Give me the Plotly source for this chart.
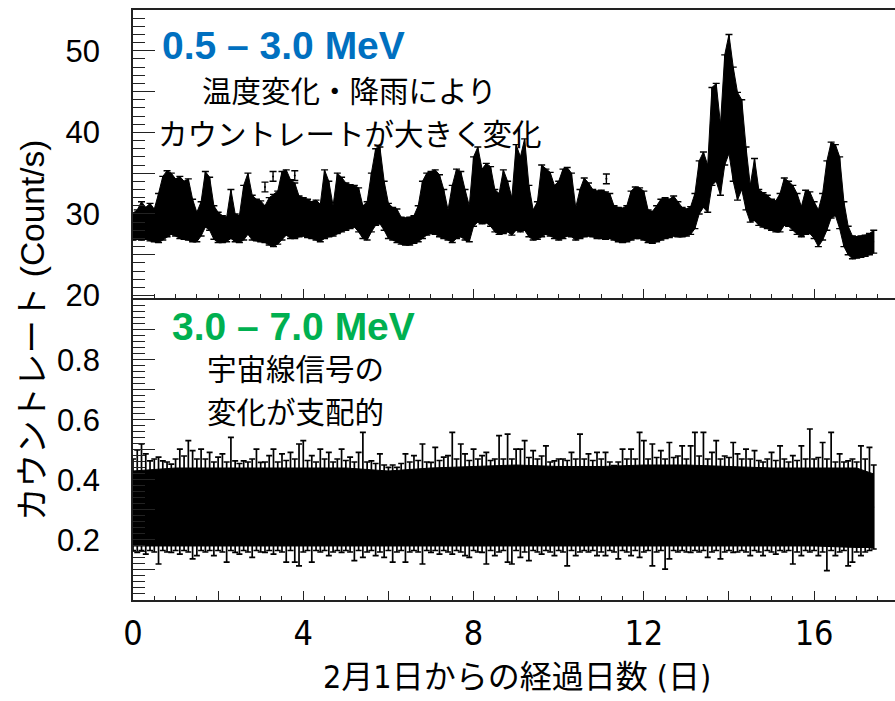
import numpy as np
import plotly.graph_objects as go

# ---------------- data ----------------
# time bins (days since Feb 1), 0.1-day grid
t_days = np.round(np.arange(175) * 0.1, 1)

# 0.5-3.0 MeV band: upper / lower envelope of the plotted points (count/s)
top_hi = [30.1,30.5,31.5,30.8,31.3,30.6,32.5,34.6,35.3,35.0,
          34.3,34.6,34.0,34.3,31.8,30.2,31.5,35.2,34.5,31.0,
          30.2,29.8,29.6,33.0,30.0,29.8,33.5,35.0,32.3,31.8,
          31.6,31.0,32.0,32.4,32.8,35.2,35.4,34.2,33.8,32.2,
          32.0,31.8,31.5,31.7,31.2,35.4,34.0,31.0,35.0,34.5,
          33.8,33.6,33.5,33.2,31.0,31.5,35.0,38.0,38.2,34.0,
          31.3,30.8,30.6,29.6,29.5,29.6,29.8,31.0,34.0,35.0,
          35.2,35.4,34.8,33.0,30.5,33.5,35.5,35.2,33.0,31.0,
          37.0,38.2,35.5,36.2,35.8,33.0,32.5,35.4,34.0,32.0,
          38.5,37.0,39.2,33.5,30.5,31.5,36.0,35.5,35.1,33.5,
          34.0,35.5,35.7,35.0,30.8,33.0,34.4,33.8,33.0,32.8,
          32.9,32.7,32.5,31.0,30.8,30.7,31.0,32.8,33.3,33.2,
          32.8,30.5,30.3,31.0,31.8,32.0,31.8,32.2,31.5,30.8,
          30.6,30.9,32.5,36.5,37.6,36.0,45.5,46.0,41.0,49.5,
          52.0,48.0,44.9,44.0,38.2,33.5,36.8,33.0,32.6,32.3,
          31.8,31.6,32.5,34.4,34.0,33.5,32.5,30.9,32.9,32.7,
          31.5,30.5,32.5,36.5,38.8,38.5,37.0,31.5,28.5,27.3,
          27.2,27.3,27.4,27.6,28.0]
top_lo = [26.8,26.9,26.8,26.9,26.7,26.6,26.5,26.8,27.2,27.5,
          27.3,27.0,26.9,26.8,26.6,26.6,27.3,28.4,28.0,26.9,
          26.5,26.5,26.6,27.0,26.6,26.5,26.8,27.5,26.8,26.7,
          26.6,26.5,26.2,26.0,26.3,26.8,27.4,27.0,27.0,27.2,
          27.3,27.1,27.0,26.8,26.6,27.0,27.2,27.3,27.6,27.8,
          28.0,28.2,28.4,27.8,27.0,26.8,27.8,28.6,28.8,28.0,
          27.0,26.8,26.5,26.3,26.2,26.2,26.4,26.6,27.0,27.4,
          27.6,27.5,27.2,27.0,26.8,26.5,27.0,27.2,26.8,26.6,
          28.5,29.0,28.8,28.9,28.5,27.8,27.5,27.6,27.8,27.4,
          28.0,27.8,28.0,27.2,26.8,26.9,27.2,27.5,27.3,27.0,
          26.8,27.0,27.3,27.2,26.8,27.0,27.2,27.3,27.2,27.0,
          27.0,26.9,27.0,26.8,26.6,26.5,26.6,26.8,27.0,27.0,
          26.8,26.5,26.4,26.6,26.8,27.0,27.1,27.3,27.2,27.2,
          27.3,27.5,28.2,30.0,30.8,30.2,33.5,34.0,32.3,36.0,
          37.4,34.0,31.7,33.0,30.5,29.0,29.2,28.6,28.4,28.2,
          28.0,27.8,27.8,28.6,28.5,28.0,27.5,27.2,27.5,27.6,
          27.0,26.0,26.8,28.0,29.5,29.8,28.2,26.0,25.0,24.5,
          24.6,24.7,24.8,25.0,25.2]

# isolated points of the 0.5-3.0 MeV band
iso_t = [3.1, 3.29, 3.8, 11.12]
iso_rate = [33.3, 34.6, 34.7, 34.3]
iso_err = [0.6, 0.6, 0.6, 0.6]

# 3.0-7.0 MeV band: tips of the error bars (count/s)
low_hi = [0.47,0.50,0.52,0.487,0.464,0.47,0.476,0.464,0.46,0.453,
          0.47,0.503,0.48,0.531,0.498,0.47,0.503,0.47,0.492,0.46,
          0.476,0.487,0.46,0.542,0.464,0.455,0.464,0.46,0.47,0.503,
          0.459,0.46,0.481,0.503,0.46,0.487,0.465,0.492,0.47,0.52,
          0.531,0.465,0.481,0.46,0.503,0.47,0.492,0.46,0.47,0.503,
          0.465,0.476,0.46,0.492,0.559,0.46,0.464,0.455,0.487,0.45,
          0.442,0.45,0.442,0.455,0.487,0.46,0.481,0.465,0.52,0.46,
          0.459,0.509,0.465,0.476,0.481,0.559,0.47,0.52,0.487,0.465,
          0.503,0.47,0.481,0.492,0.465,0.47,0.548,0.47,0.553,0.47,
          0.503,0.503,0.531,0.475,0.498,0.47,0.48,0.514,0.46,0.464,
          0.47,0.47,0.465,0.492,0.47,0.553,0.47,0.487,0.465,0.492,
          0.47,0.492,0.46,0.448,0.46,0.503,0.47,0.503,0.47,0.559,
          0.531,0.47,0.52,0.475,0.498,0.47,0.525,0.475,0.48,0.514,
          0.47,0.514,0.559,0.48,0.559,0.47,0.492,0.531,0.47,0.48,
          0.475,0.525,0.487,0.47,0.503,0.47,0.498,0.465,0.46,0.47,
          0.492,0.465,0.514,0.47,0.46,0.481,0.465,0.514,0.47,0.57,
          0.47,0.475,0.525,0.47,0.559,0.46,0.487,0.46,0.464,0.47,
          0.46,0.514,0.47,0.509,0.45]
low_lo = [0.165,0.159,0.165,0.153,0.165,0.16,0.12,0.165,0.16,0.159,
          0.165,0.153,0.165,0.16,0.137,0.148,0.165,0.16,0.165,0.148,
          0.165,0.16,0.126,0.165,0.159,0.153,0.165,0.16,0.142,0.165,
          0.16,0.159,0.165,0.153,0.165,0.16,0.126,0.165,0.126,0.114,
          0.16,0.165,0.126,0.165,0.16,0.165,0.148,0.16,0.165,0.159,
          0.165,0.16,0.131,0.165,0.142,0.16,0.165,0.148,0.16,0.142,
          0.165,0.126,0.16,0.165,0.126,0.16,0.165,0.16,0.12,0.165,
          0.159,0.165,0.153,0.165,0.16,0.153,0.165,0.16,0.148,0.142,
          0.165,0.16,0.159,0.12,0.165,0.148,0.16,0.165,0.126,0.12,
          0.165,0.142,0.16,0.131,0.165,0.16,0.153,0.165,0.16,0.148,
          0.165,0.16,0.114,0.165,0.148,0.16,0.165,0.16,0.165,0.148,
          0.16,0.148,0.165,0.16,0.137,0.165,0.16,0.148,0.165,0.142,
          0.16,0.165,0.114,0.16,0.165,0.103,0.137,0.165,0.16,0.165,
          0.16,0.159,0.165,0.16,0.165,0.142,0.16,0.165,0.137,0.16,
          0.165,0.159,0.16,0.165,0.16,0.148,0.165,0.16,0.148,0.165,
          0.16,0.153,0.165,0.16,0.165,0.12,0.16,0.148,0.165,0.16,
          0.165,0.148,0.16,0.098,0.165,0.148,0.16,0.165,0.114,0.126,
          0.16,0.148,0.16,0.165,0.17]

# dense core of the 3.0-7.0 MeV band (1-day grid)
core_t = [0,1,2,3,4,5,6,7,8,9,10,11,12,13,14,15,16,17,17.4]
core_hi = [0.43,0.44,0.44,0.44,0.44,0.44,0.43,0.44,0.445,0.45,
           0.445,0.445,0.45,0.45,0.445,0.44,0.44,0.44,0.42]
core_lo = [0.18,0.18,0.18,0.18,0.18,0.18,0.18,0.18,0.18,0.18,
           0.18,0.18,0.18,0.18,0.18,0.18,0.18,0.175,0.175]

x_tickvals = [0, 2, 4, 6, 8, 10, 12, 14, 16]
x_ticktext = ["0", "", "4", "", "8", "", "12", "", "16"]
top_tickvals = [20, 25, 30, 35, 40, 45, 50]
top_ticktext = ["20", "", "30", "", "40", "", "50"]
low_tickvals = [0.1, 0.2, 0.3, 0.4, 0.5, 0.6, 0.7, 0.8, 0.9]
low_ticktext = ["", "0.2", "", "0.4", "", "0.6", "", "0.8", ""]

# ---------------- figure ----------------
INK = "#000000"
AX = "#222222"
fig = go.Figure()

top_mid = [(h + l) / 2 for h, l in zip(top_hi, top_lo)]
top_half = [(h - l) / 2 for h, l in zip(top_hi, top_lo)]

fig.add_trace(go.Scatter(x=t_days, y=top_lo, mode="lines", line=dict(color=INK, width=1),
                         xaxis="x", yaxis="y", hoverinfo="skip", showlegend=False))
fig.add_trace(go.Scatter(x=t_days, y=top_hi, mode="lines", line=dict(color=INK, width=1),
                         fill="tonexty", fillcolor=INK,
                         xaxis="x", yaxis="y", hoverinfo="skip", showlegend=False))
fig.add_trace(go.Scatter(x=t_days, y=top_mid, mode="markers", marker=dict(size=1, color=INK),
                         error_y=dict(type="data", array=top_half, color=INK, thickness=1.4, width=3.5),
                         xaxis="x", yaxis="y", showlegend=False))
fig.add_trace(go.Scatter(x=iso_t, y=iso_rate, mode="markers", marker=dict(size=2, color=INK),
                         error_y=dict(type="data", array=iso_err, color=INK, thickness=1.4, width=3.5),
                         xaxis="x", yaxis="y", showlegend=False))

low_mid = [(h + l) / 2 for h, l in zip(low_hi, low_lo)]
low_half = [(h - l) / 2 for h, l in zip(low_hi, low_lo)]

fig.add_trace(go.Scatter(x=core_t, y=core_lo, mode="lines", line=dict(color=INK, width=1),
                         xaxis="x2", yaxis="y2", hoverinfo="skip", showlegend=False))
fig.add_trace(go.Scatter(x=core_t, y=core_hi, mode="lines", line=dict(color=INK, width=1),
                         fill="tonexty", fillcolor=INK,
                         xaxis="x2", yaxis="y2", hoverinfo="skip", showlegend=False))
fig.add_trace(go.Scatter(x=t_days, y=low_mid, mode="markers", marker=dict(size=1, color=INK),
                         error_y=dict(type="data", array=low_half, color=INK, thickness=1.7, width=3),
                         xaxis="x2", yaxis="y2", showlegend=False))

tick_font = dict(family="Liberation Sans, Arial, sans-serif", size=31, color="#000")
x_font = dict(family="Liberation Sans Narrow, DejaVu Sans Condensed, Liberation Sans, sans-serif",
              size=34, color="#000")

common_x = dict(range=[0, 17.9], showgrid=False, zeroline=False, showline=True, linecolor=AX,
                linewidth=1.5, mirror=True, ticks="inside", ticklen=9, tickwidth=1.4, tickcolor=AX,
                tickmode="array", tickvals=x_tickvals, ticktext=x_ticktext,
                minor=dict(tickmode="linear", tick0=0, dtick=0.5, ticks="inside", ticklen=4,
                           tickwidth=1.3, tickcolor=AX))
common_y = dict(showgrid=False, zeroline=False, showline=True, linecolor=AX, linewidth=1.5,
                ticks="inside", ticklen=22, tickwidth=1.4, tickcolor=AX, tickfont=tick_font,
                ticklabelstandoff=25)

fig.update_layout(
    width=895, height=701,
    margin=dict(l=133, r=0, t=10, b=101),
    paper_bgcolor="white", plot_bgcolor="white",
    xaxis=dict(**common_x, anchor="y", showticklabels=False),
    xaxis2=dict(**common_x, anchor="y2", matches="x", showticklabels=True, tickfont=x_font,
                ticklabelstandoff=2),
    yaxis=dict(**common_y, domain=[0.5119, 1.0], range=[19.7, 55], anchor="x",
               tickmode="array", tickvals=top_tickvals, ticktext=top_ticktext,
               minor=dict(tickmode="linear", tick0=0, dtick=1, ticks="inside", ticklen=12,
                          tickwidth=1.3, tickcolor=AX)),
    yaxis2=dict(**common_y, domain=[0.0, 0.5085], range=[0, 1.0], anchor="x2",
                tickmode="array", tickvals=low_tickvals, ticktext=low_ticktext,
                minor=dict(tickmode="linear", tick0=0, dtick=0.02, ticks="inside", ticklen=12,
                           tickwidth=1.3, tickcolor=AX)),
)

jp = "Noto Sans CJK JP, sans-serif"
latin = "Liberation Sans, Arial, sans-serif"
anns = [
    dict(text="0.5 – 3.0 MeV", x=0.63, y=50.6, xref="x", yref="y", xanchor="left", yanchor="middle",
         font=dict(family=latin, size=39, color="#0070C0", weight="bold")),
    dict(text="温度変化・降雨により", x=5.08, y=45.3, xref="x", yref="y",
         xanchor="center", yanchor="middle", font=dict(family=jp, size=29.5, color="#000")),
    dict(text="カウントレートが大きく変化", x=5.10, y=40.1, xref="x", yref="y",
         xanchor="center", yanchor="middle", font=dict(family=jp, size=29.5, color="#000")),
    dict(text="3.0 – 7.0 MeV", x=0.87, y=0.91, xref="x2", yref="y2", xanchor="left", yanchor="middle",
         font=dict(family=latin, size=39, color="#00B050", weight="bold")),
    dict(text="宇宙線信号の", x=1.69, y=0.777, xref="x2", yref="y2",
         xanchor="left", yanchor="middle", font=dict(family=jp, size=29.5, color="#000")),
    dict(text="変化が支配的", x=1.69, y=0.633, xref="x2", yref="y2",
         xanchor="left", yanchor="middle", font=dict(family=jp, size=29.5, color="#000")),
    dict(text="カウントレート (Count/s)", x=-0.1325, y=0.4576, xref="paper", yref="paper",
         xanchor="center", yanchor="middle", textangle=-90,
         font=dict(family="Liberation Sans, Noto Sans CJK JP, sans-serif", size=33.5, color="#000")),
    dict(text="2月1日からの経過日数 (日)", x=0.504, y=-0.131, xref="paper", yref="paper",
         xanchor="center", yanchor="middle",
         font=dict(family="Liberation Sans Narrow, DejaVu Sans Condensed, Noto Sans CJK JP, sans-serif",
                   size=32, color="#000")),
]
for a in anns:
    a["showarrow"] = False
fig.update_layout(annotations=anns)

fig.write_html("out.html", config={"displayModeBar": False},
               post_script="document.body.style.margin='0';document.body.style.overflow='hidden';")
